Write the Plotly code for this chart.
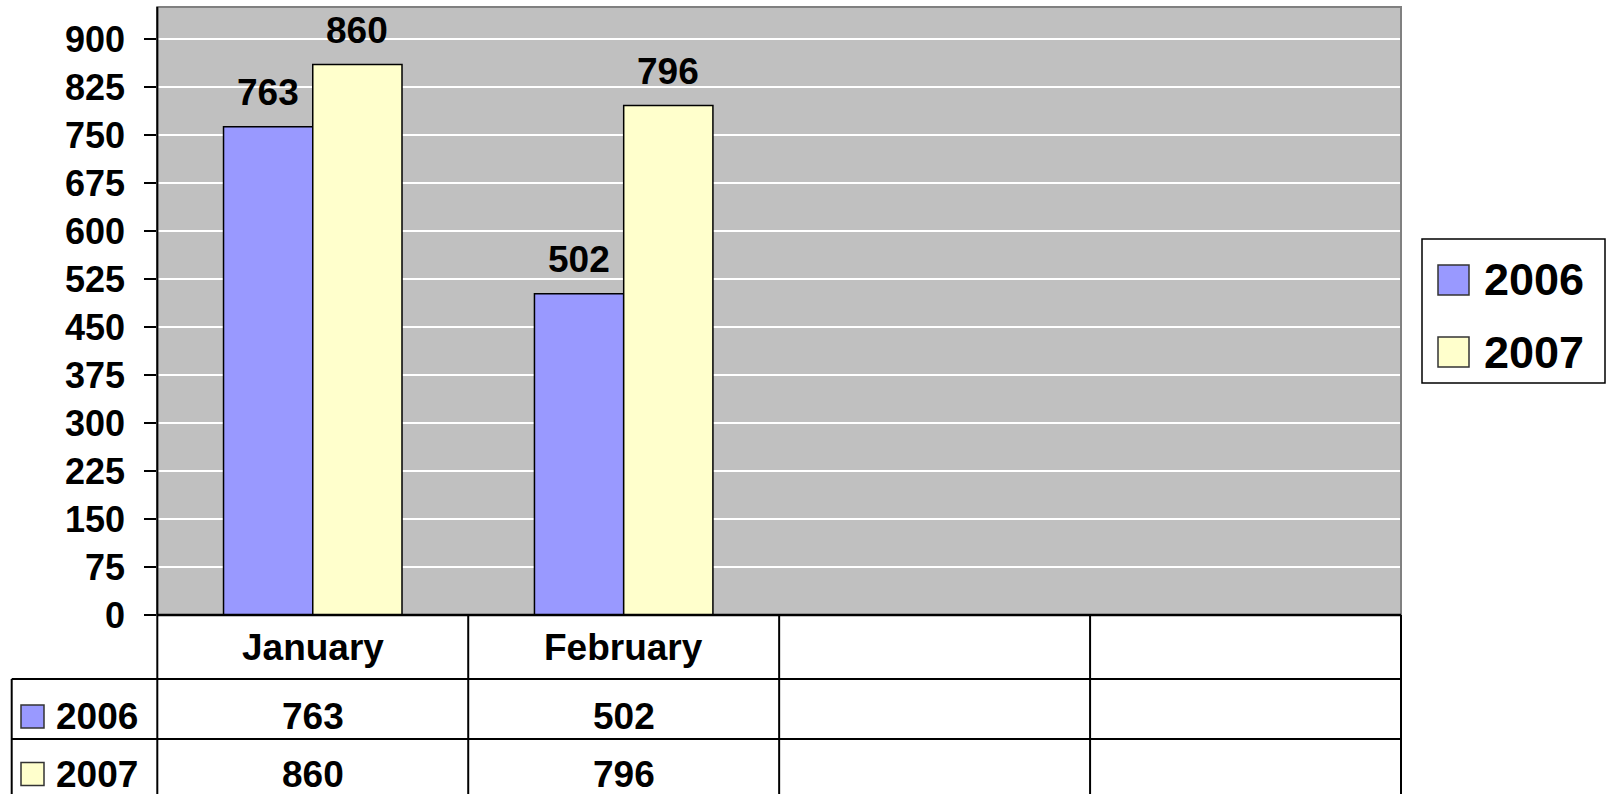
import plotly.graph_objects as go

months = ["January", "February", "", ""]
series_names = ["2006", "2007"]
values_2006 = [763, 502]
values_2007 = [860, 796]
colors = ["#9999FF", "#FFFFCC"]
y_ticks = list(range(0, 901, 75))

W, H = 1609, 794
def px(x):
    return x / W
def py(y):
    return 1 - y / H

PL, PR, PT, PB = 157.3, 1401.0, 7.0, 615.0
FONT = "Liberation Sans, Arial, sans-serif"
BAR_W = 0.287

fig = go.Figure()
all_vals = [values_2006, values_2007]
offsets = [-BAR_W, 0.0]
for name, vals, col, off in zip(series_names, all_vals, colors, offsets):
    fig.add_trace(go.Bar(
        x=list(range(len(vals))), y=vals, name=name,
        marker=dict(color=col, line=dict(color="black", width=1.5)),
        offset=off, width=BAR_W, showlegend=False,
    ))

annotations = []
shapes = []
for vals, off in zip(all_vals, offsets):
    for i, v in enumerate(vals):
        annotations.append(dict(
            x=i + off + BAR_W / 2, y=v, xref="x", yref="y",
            text=f"<b>{v}</b>", showarrow=False, yanchor="bottom",
            yshift=12, font=dict(family=FONT, size=37, color="black"),
        ))

shapes.append(dict(type="rect", xref="paper", yref="paper",
                   x0=px(PL), x1=px(PR), y0=py(PB), y1=py(PT),
                   line=dict(color="#808080", width=2), layer="above"))
shapes.append(dict(type="line", xref="paper", yref="paper",
                   x0=px(PL), x1=px(PL), y0=py(PB), y1=py(PT),
                   line=dict(color="black", width=2), layer="above"))

col_w = (PR - PL) / len(months)
row_y = [PB, 679.0, 739.0, 799.0]
table_left = 11.7
shapes.append(dict(type="line", xref="paper", yref="paper",
                   x0=px(PL), x1=px(PR), y0=py(PB), y1=py(PB),
                   line=dict(color="black", width=2.5), layer="above"))
for yy in row_y[1:3]:
    shapes.append(dict(type="line", xref="paper", yref="paper",
                       x0=px(table_left), x1=px(PR), y0=py(yy), y1=py(yy),
                       line=dict(color="black", width=2)))
for k in range(len(months) + 1):
    xx = PL + k * col_w
    shapes.append(dict(type="line", xref="paper", yref="paper",
                       x0=px(xx), x1=px(xx), y0=py(PB), y1=0,
                       line=dict(color="black", width=2)))
shapes.append(dict(type="line", xref="paper", yref="paper",
                   x0=px(table_left), x1=px(table_left), y0=py(679), y1=0,
                   line=dict(color="black", width=2)))

for i, m in enumerate(months):
    if m:
        annotations.append(dict(
            x=i, y=py((PB + 679) / 2), xref="x", yref="paper",
            text=f"<b>{m}</b>", showarrow=False, yanchor="middle",
            font=dict(family=FONT, size=37, color="black"),
        ))
row_text_y = [716.5, 774.0]
for r, (name, vals, col) in enumerate(zip(series_names, all_vals, colors)):
    cy = row_text_y[r]
    shapes.append(dict(type="rect", xref="paper", yref="paper",
                       x0=px(21), x1=px(44), y0=py(cy - 11.5), y1=py(cy + 11.5),
                       fillcolor=col, line=dict(color="#333333", width=1.5)))
    annotations.append(dict(
        x=px(54), y=py(cy), xref="paper", yref="paper", xanchor="left",
        text=f"<b>{name}</b>", showarrow=False, yanchor="middle",
        font=dict(family=FONT, size=37, color="black"),
    ))
    for i, v in enumerate(vals):
        annotations.append(dict(
            x=i, y=py(cy), xref="x", yref="paper",
            text=f"<b>{v}</b>", showarrow=False, yanchor="middle",
            font=dict(family=FONT, size=37, color="black"),
        ))

shapes.append(dict(type="rect", xref="paper", yref="paper",
                   x0=px(1422), x1=px(1605), y0=py(383), y1=py(239),
                   line=dict(color="black", width=1.5), fillcolor="white"))
leg_y = [280.0, 352.0]
for name, col, cy in zip(series_names, colors, leg_y):
    shapes.append(dict(type="rect", xref="paper", yref="paper",
                       x0=px(1438), x1=px(1469), y0=py(cy - 15), y1=py(cy + 15),
                       fillcolor=col, line=dict(color="#333333", width=1.5)))
    annotations.append(dict(
        x=px(1482), y=py(cy), xref="paper", yref="paper", xanchor="left",
        text=f"<b>{name}</b>", showarrow=False, yanchor="middle",
        font=dict(family=FONT, size=45, color="black"),
    ))

fig.update_layout(
    width=W, height=H, autosize=False,
    margin=dict(l=0, r=0, t=0, b=0, pad=0),
    paper_bgcolor="white", plot_bgcolor="#C0C0C0",
    barmode="overlay", showlegend=False,
    shapes=shapes, annotations=annotations,
    xaxis=dict(domain=[px(PL), px(PR)], range=[-0.5, len(months) - 0.5],
               showticklabels=False, showgrid=False, zeroline=False,
               ticks="", fixedrange=True, automargin=False),
    yaxis=dict(domain=[py(PB), py(PT)], range=[0, 950],
               tickvals=y_ticks, ticktext=[f"<b>{t}</b>" for t in y_ticks],
               ticks="outside", ticklen=12, tickwidth=2, tickcolor="black",
               ticklabelstandoff=12,
               tickfont=dict(family=FONT, size=36, color="black"),
               showgrid=True, gridcolor="white", gridwidth=2,
               zeroline=False, showline=False, fixedrange=True, automargin=False),
)

fig.write_html("out.html",
               config={"responsive": False, "displayModeBar": False},
               post_script="document.body.style.margin='0';document.body.style.overflow='hidden';")
